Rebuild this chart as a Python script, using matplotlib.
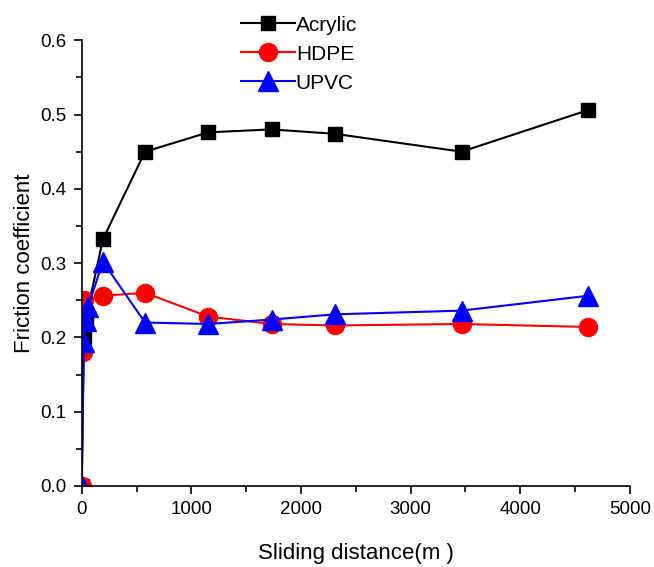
import matplotlib.pyplot as plt

plt.rcParams['font.family'] = ['Liberation Sans', 'DejaVu Sans']

# Datos
x_acr = [0, 19.25, 38.5, 192.5, 577.5, 1155, 1732.5, 2310, 3465, 4620]
y_acr = [0, 0.200, 0.226, 0.332, 0.450, 0.476, 0.480, 0.474, 0.450, 0.506]

x_hdpe = [0, 9.6, 19.25, 192.5, 577.5, 1155, 1732.5, 2310, 3465, 4620]
y_hdpe = [0, 0.180, 0.250, 0.256, 0.260, 0.228, 0.218, 0.216, 0.218, 0.214]

x_upvc = [0, 19.25, 38.5, 57.75, 192.5, 577.5, 1155, 1732.5, 2310, 3465, 4620]
y_upvc = [0, 0.194, 0.222, 0.241, 0.302, 0.220, 0.218, 0.224, 0.231, 0.236, 0.256]

fig = plt.figure(figsize=(6.54, 5.67), dpi=100)
ax = fig.add_axes([0.125, 0.143, 0.838, 0.786])

l1, = ax.plot(x_acr, y_acr, color='black', marker='s', markersize=10.5, lw=1.5, label='Acrylic')
l2, = ax.plot(x_hdpe, y_hdpe, color='red', marker='o', markersize=13, lw=1.5, label='HDPE')
l3, = ax.plot(x_upvc, y_upvc, color='blue', marker='^', markersize=14, lw=1.5, label='UPVC')

ax.set_xlim(0, 5000)
ax.set_ylim(0, 0.6)
ax.set_xticks(range(0, 5001, 1000))
ax.set_xticks(range(500, 5000, 1000), minor=True)
ax.set_yticks([0, 0.1, 0.2, 0.3, 0.4, 0.5, 0.6])
ax.set_yticks([0.05, 0.15, 0.25, 0.35, 0.45, 0.55], minor=True)
ax.yaxis.set_major_formatter(plt.FormatStrFormatter('%.1f'))
ax.spines['top'].set_visible(False)
ax.spines['right'].set_visible(False)
ax.spines['left'].set_linewidth(1.2)
ax.spines['bottom'].set_linewidth(1.2)
ax.tick_params(which='major', direction='out', length=6, width=1.2, labelsize=13.5, pad=5)
ax.tick_params(which='minor', direction='out', length=4, width=1.2)

ax.set_xlabel('Sliding distance(m )', fontsize=16, labelpad=18)
ax.set_ylabel('Friction coefficient', fontsize=16, labelpad=4)

fig.legend(handles=[l1, l2, l3], loc='upper left', bbox_to_anchor=(0.344, 1.0),
           frameon=False, fontsize=15, handlelength=2.6, handletextpad=0.05,
           labelspacing=0.48, borderpad=0.25)

fig.savefig('out.png', dpi=100)
